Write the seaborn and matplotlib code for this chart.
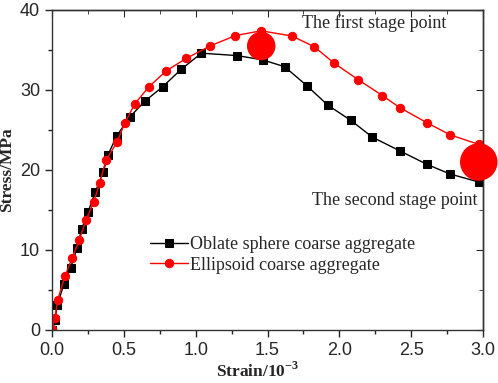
import numpy as np
import matplotlib
matplotlib.use("Agg")
import matplotlib.pyplot as plt
import seaborn as sns
from matplotlib.ticker import MultipleLocator

# data
strain_oblate = [0.0, 0.02, 0.037, 0.083, 0.13, 0.176, 0.206, 0.252, 0.30, 0.356, 0.39, 0.45,
                 0.54, 0.646, 0.77, 0.90, 1.04, 1.29, 1.47, 1.62, 1.776, 1.92, 2.08, 2.23,
                 2.42, 2.61, 2.77, 2.97]
stress_oblate = [0.0, 1.25, 3.1, 5.75, 7.8, 10.3, 12.6, 14.8, 17.2, 19.7, 21.9, 24.25,
                 26.6, 28.6, 30.4, 32.6, 34.6, 34.3, 33.75, 32.9, 30.5, 28.1, 26.2, 24.1,
                 22.4, 20.7, 19.5, 18.5]

strain_ellip = [0.0, 0.02, 0.04, 0.09, 0.14, 0.19, 0.236, 0.29, 0.333, 0.375, 0.453, 0.507,
                0.576, 0.674, 0.796, 0.935, 1.10, 1.275, 1.456, 1.67, 1.826, 1.96, 2.13,
                2.30, 2.42, 2.61, 2.77, 2.97]
stress_ellip = [0.1, 1.5, 3.8, 6.7, 9.0, 11.25, 13.7, 16.0, 18.4, 21.2, 23.5, 25.9,
                28.25, 30.4, 32.4, 33.96, 35.5, 36.8, 37.4, 36.75, 35.4, 33.4, 31.3,
                29.3, 27.8, 25.9, 24.4, 23.2]

stage_x = [1.456, 2.97]
stage_y = [35.5, 21.0]
stage_sizes = [420, 730]
stage_labels = ["The first stage point", "The second stage point"]

sns.set_style("ticks")
plt.rcParams['font.family'] = ['Liberation Sans', 'DejaVu Sans']
plt.rcParams['mathtext.fontset'] = 'custom'
plt.rcParams['mathtext.rm'] = 'Liberation Serif'
plt.rcParams['mathtext.bf'] = 'Liberation Serif:bold'

fig = plt.figure(figsize=(4.98, 3.83), dpi=100)
ax = fig.add_axes([0.1044, 0.1384, 0.8656, 0.8355])

sns.lineplot(x=strain_oblate, y=stress_oblate, ax=ax, sort=False, color='black',
             marker='s', markersize=5.5, markeredgecolor='black', linewidth=1,
             label='Oblate sphere coarse aggregate')
sns.lineplot(x=strain_ellip, y=stress_ellip, ax=ax, sort=False, color='red',
             marker='o', markersize=6, markeredgecolor='red', linewidth=1,
             label='Ellipsoid coarse aggregate')

ax.scatter(stage_x, stage_y, s=stage_sizes, color='red', zorder=5, clip_on=False,
           linewidths=0)

ax.text(1.74, 38.4, stage_labels[0], family='Liberation Serif', fontsize=13,
        va='center', ha='left')
ax.text(2.96, 16.2, stage_labels[1], family='Liberation Serif', fontsize=13,
        va='center', ha='right')

ax.set_xlim(0, 3.0)
ax.set_ylim(0, 40)
ax.xaxis.set_major_locator(MultipleLocator(0.5))
ax.xaxis.set_minor_locator(MultipleLocator(0.25))
ax.yaxis.set_major_locator(MultipleLocator(10))
ax.yaxis.set_minor_locator(MultipleLocator(5))
ax.tick_params(which='major', direction='out', length=5, width=1, labelsize=13)
ax.tick_params(which='minor', direction='out', length=3, width=1)

top = ax.secondary_xaxis('top')
top.xaxis.set_major_locator(MultipleLocator(0.5))
top.xaxis.set_minor_locator(MultipleLocator(0.25))
top.tick_params(which='major', direction='in', length=5, labeltop=False)
top.tick_params(which='minor', direction='in', length=3)
right = ax.secondary_yaxis('right')
right.yaxis.set_major_locator(MultipleLocator(10))
right.yaxis.set_minor_locator(MultipleLocator(5))
right.tick_params(which='major', direction='in', length=5, labelright=False)
right.tick_params(which='minor', direction='in', length=3)

for s in list(ax.spines.values()) + [top.spines['top'], right.spines['right']]:
    s.set_linewidth(1)
    s.set_color('#333333')

ax.set_xlabel('Strain/10$^{\\mathbf{-3}}$', family='Liberation Serif', fontweight='bold',
              fontsize=12.5)
ax.set_ylabel('Stress/MPa', family='Liberation Serif', fontweight='bold',
              fontsize=12.5)
ax.xaxis.set_label_coords(0.478, -0.097)
ax.yaxis.set_label_coords(-0.085, 0.5)

leg = ax.legend(loc='upper left', bbox_to_anchor=(0.227, 0.294), frameon=False,
                prop={'family': 'Liberation Serif', 'size': 13},
                borderpad=0, borderaxespad=0,
                handlelength=2.1, handletextpad=0.15, labelspacing=0.2)

fig.savefig('out.png', dpi=100)
